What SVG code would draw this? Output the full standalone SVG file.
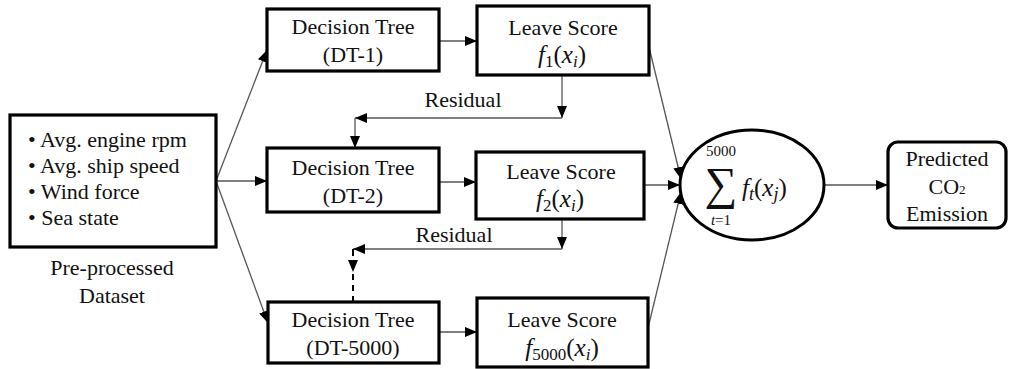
<svg xmlns="http://www.w3.org/2000/svg" width="1011" height="369" viewBox="0 0 1011 369">
<style>
.box{fill:#fff;stroke:#000;stroke-width:3.2}
text{font-family:'Liberation Serif','Times New Roman',serif;fill:#111}
.t{font-size:22px}
.m{font-style:italic;font-size:25px}
.c{text-anchor:middle}
.ln{fill:none;stroke:#555;stroke-width:1.3}
.ar{marker-end:url(#ah)}
</style>
<defs>
<marker id="ah" viewBox="0 0 12 10" refX="12" refY="5" markerWidth="12" markerHeight="10" markerUnits="userSpaceOnUse" orient="auto">
<path d="M0,0 L12,5 L0,10 z" fill="#000"/>
</marker>
</defs>
<rect width="1011" height="369" fill="#fff"/>
<g id="connectors">
<line class="ln ar" x1="216" y1="181" x2="267" y2="50"/>
<line class="ln ar" x1="216" y1="181" x2="267" y2="181"/>
<line class="ln ar" x1="216" y1="181" x2="268" y2="323"/>
<line class="ln ar" x1="439" y1="41" x2="477" y2="41"/>
<line class="ln ar" x1="439" y1="182" x2="476" y2="182"/>
<line class="ln ar" x1="439" y1="332" x2="477" y2="332"/>
<line class="ln ar" x1="562" y1="75" x2="562" y2="118"/>
<line class="ln ar" x1="562" y1="118" x2="355" y2="118"/>
<line class="ln ar" x1="355" y1="118" x2="355" y2="148"/>
<line class="ln ar" x1="562" y1="219" x2="562" y2="249"/>
<line class="ln ar" x1="562" y1="249" x2="353" y2="249"/>
<line x1="353" y1="249" x2="353" y2="272" stroke="#000" stroke-width="2" stroke-dasharray="7,5" marker-end="url(#ah)"/>
<line x1="353" y1="274" x2="353" y2="302" stroke="#000" stroke-width="2" stroke-dasharray="6,5"/>
<line class="ln ar" x1="649" y1="47" x2="681" y2="179"/>
<line class="ln ar" x1="644" y1="185" x2="680" y2="185"/>
<line class="ln ar" x1="648" y1="328" x2="681" y2="192"/>
<line class="ln ar" x1="825" y1="185" x2="888" y2="185"/>
<text class="t c" x="463" y="107">Residual</text>
<text class="t c" x="454" y="242">Residual</text>
</g>
<g id="dataset">
<rect class="box" x="10" y="115" width="206" height="132"/>
<text class="t" x="28" y="147">• Avg. engine rpm</text>
<text class="t" x="28" y="173">• Avg. ship speed</text>
<text class="t" x="28" y="199">• Wind force</text>
<text class="t" x="28" y="225">• Sea state</text>
<text class="t c" x="112" y="275">Pre-processed</text>
<text class="t c" x="112" y="303">Dataset</text>
</g>
<g id="dt1">
<rect class="box" x="267" y="9" width="172" height="62"/>
<text class="t c" x="353" y="34">Decision Tree</text>
<text class="t c" x="353" y="62">(DT-1)</text>
</g>
<g id="ls1">
<rect class="box" x="477" y="6" width="172" height="69"/>
<text class="t c" x="563" y="35">Leave Score</text>
<text class="m c" x="562" y="63">f<tspan font-style="normal" font-size="17" dy="4">1</tspan><tspan font-style="normal" dy="-4">(</tspan>x<tspan font-size="17" dy="4">i</tspan><tspan font-style="normal" dy="-4">)</tspan></text>
</g>
<g id="dt2">
<rect class="box" x="267" y="148" width="172" height="64"/>
<text class="t c" x="353" y="175">Decision Tree</text>
<text class="t c" x="353" y="203">(DT-2)</text>
</g>
<g id="ls2">
<rect class="box" x="476" y="152" width="168" height="67"/>
<text class="t c" x="561" y="179">Leave Score</text>
<text class="m c" x="560" y="207">f<tspan font-style="normal" font-size="17" dy="4">2</tspan><tspan font-style="normal" dy="-4">(</tspan>x<tspan font-size="17" dy="4">i</tspan><tspan font-style="normal" dy="-4">)</tspan></text>
</g>
<g id="dt5000">
<rect class="box" x="268" y="302" width="171" height="61"/>
<text class="t c" x="353" y="327">Decision Tree</text>
<text class="t c" x="353" y="355">(DT-5000)</text>
</g>
<g id="ls5000">
<rect class="box" x="477" y="298" width="171" height="69"/>
<text class="t c" x="562" y="327">Leave Score</text>
<text class="m c" x="562" y="356">f<tspan font-style="normal" font-size="17" dy="4">5000</tspan><tspan font-style="normal" dy="-4">(</tspan>x<tspan font-size="17" dy="4">i</tspan><tspan font-style="normal" dy="-4">)</tspan></text>
</g>
<g id="sum">
<ellipse cx="752" cy="185" rx="72" ry="55" fill="#fff" stroke="#000" stroke-width="3"/>
<text x="721" y="156" font-size="15" text-anchor="middle">5000</text>
<text x="721" y="199" font-size="46" text-anchor="middle">∑</text>
<text x="721" y="225" font-style="italic" font-size="15" text-anchor="middle">t<tspan font-style="normal">=1</tspan></text>
<text class="m" x="742" y="196" font-size="27">f<tspan font-size="18" dy="4">t</tspan><tspan font-style="normal" dy="-4">(</tspan>x<tspan font-size="18" dy="4">j</tspan><tspan font-style="normal" dy="-4">)</tspan></text>
</g>
<g id="predicted">
<rect class="box" x="888" y="142" width="118" height="86" rx="10"/>
<text class="t c" x="947" y="166">Predicted</text>
<text class="t c" x="947" y="194">CO<tspan font-size="13">2</tspan></text>
<text class="t c" x="947" y="221">Emission</text>
</g>
</svg>
